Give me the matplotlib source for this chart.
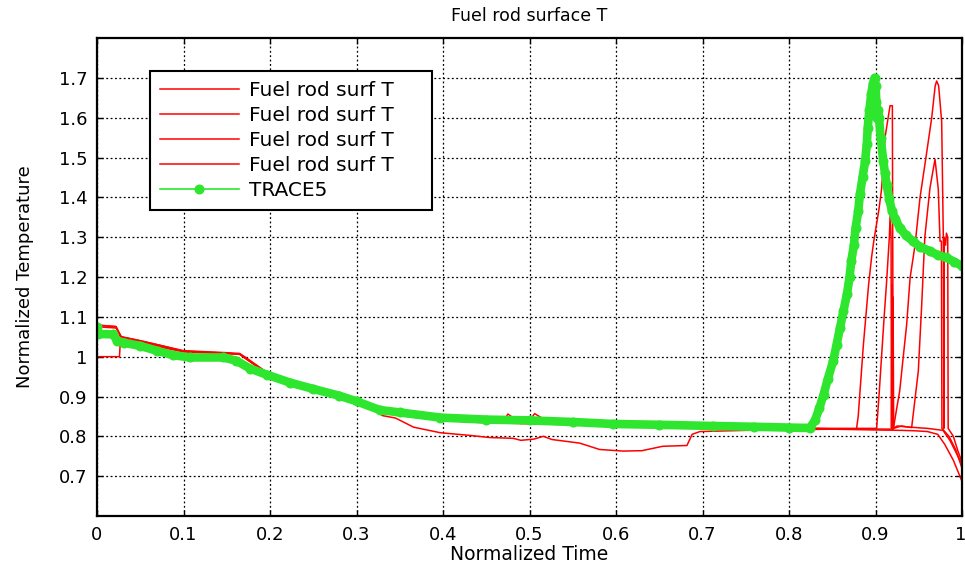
import matplotlib
matplotlib.use('Agg')
import matplotlib.pyplot as plt
import matplotlib.transforms as mtransforms

# ---------------- data ----------------
# Red curves: "Fuel rod surf T" (4 traces)
r1_t = [0, 0.026, 0.027, 0.05, 0.07, 0.10, 0.15, 0.165, 0.172, 0.20, 0.25, 0.28, 0.30,
        0.32, 0.33, 0.345, 0.366, 0.397, 0.428, 0.454, 0.481, 0.49, 0.505, 0.516, 0.526,
        0.558, 0.581, 0.608, 0.63, 0.654, 0.682, 0.688, 0.697, 0.75, 0.85, 0.90, 0.93,
        0.945, 0.96, 0.972, 0.98, 0.99, 1.0]
r1_y = [1.0, 1.0, 1.04, 1.035, 1.025, 1.012, 1.008, 1.006, 0.995, 0.955, 0.92, 0.905, 0.89,
        0.868, 0.852, 0.846, 0.823, 0.809, 0.803, 0.797, 0.795, 0.79, 0.793, 0.80, 0.792,
        0.783, 0.767, 0.763, 0.764, 0.775, 0.777, 0.805, 0.812, 0.815, 0.818, 0.816, 0.815,
        0.814, 0.812, 0.805, 0.78, 0.74, 0.687]

r2_t = [0, 0.022, 0.028, 0.05, 0.07, 0.10, 0.15, 0.165, 0.172, 0.20, 0.25, 0.28, 0.30,
        0.33, 0.35, 0.40, 0.45, 0.47, 0.475, 0.482, 0.49, 0.50, 0.506, 0.515, 0.525,
        0.60, 0.70, 0.80, 0.878, 0.880, 0.882, 0.884, 0.886, 0.888, 0.890, 0.892, 0.8955,
        0.898, 0.901, 0.904, 0.907, 0.909, 0.911, 0.9168, 0.9195, 0.9205, 0.925, 0.93,
        0.94, 0.96, 0.978, 0.986, 0.993, 1.0]
r2_y = [1.078, 1.076, 1.05, 1.04, 1.03, 1.015, 1.01, 1.008, 0.998, 0.955, 0.922, 0.905, 0.89,
        0.862, 0.855, 0.842, 0.836, 0.838, 0.856, 0.845, 0.832, 0.84, 0.857, 0.845, 0.832,
        0.828, 0.824, 0.82, 0.818, 0.85, 0.91, 0.97, 1.03, 1.08, 1.13, 1.18, 1.25,
        1.29, 1.33, 1.37, 1.42, 1.48, 1.55, 1.63, 1.63, 0.82, 0.826, 0.825,
        0.823, 0.82, 0.815, 0.79, 0.76, 0.73]

r3_t = [0, 0.022, 0.028, 0.05, 0.07, 0.10, 0.15, 0.165, 0.172, 0.20, 0.25, 0.28, 0.30,
        0.33, 0.35, 0.40, 0.45, 0.55, 0.65, 0.75, 0.85, 0.9013, 0.904, 0.907, 0.910,
        0.9129, 0.916, 0.917, 0.918, 0.9185, 0.919, 0.9195, 0.9203, 0.921, 0.93, 0.9418,
        0.9495, 0.9534, 0.957, 0.963, 0.9688, 0.9726, 0.9746, 0.9762, 0.9768, 0.985,
        0.993, 1.0]
r3_y = [1.08, 1.075, 1.045, 1.038, 1.028, 1.013, 1.008, 1.006, 0.995, 0.952, 0.92, 0.903,
        0.888, 0.862, 0.852, 0.84, 0.834, 0.83, 0.826, 0.822, 0.82, 0.82, 0.90, 1.0, 1.10,
        1.19, 1.30, 1.36, 1.30, 0.82, 1.18, 0.82, 1.15, 0.82, 0.826, 0.822,
        0.964, 1.13, 1.30, 1.424, 1.496, 1.42, 1.29, 1.29, 0.82, 0.80,
        0.765, 0.72]

r4_t = [0, 0.022, 0.028, 0.05, 0.07, 0.10, 0.15, 0.165, 0.172, 0.20, 0.25, 0.28, 0.30,
        0.33, 0.35, 0.40, 0.45, 0.55, 0.65, 0.75, 0.85, 0.9206, 0.9245, 0.928, 0.932,
        0.936, 0.940, 0.9457, 0.9515, 0.959, 0.965, 0.969, 0.9707, 0.973, 0.9765, 0.9784,
        0.979, 0.9795, 0.981, 0.982, 0.9835, 0.984, 0.99, 0.995, 1.0]
r4_y = [1.075, 1.072, 1.05, 1.04, 1.03, 1.014, 1.009, 1.006, 0.996, 0.953, 0.921, 0.904,
        0.889, 0.863, 0.853, 0.841, 0.835, 0.829, 0.825, 0.821, 0.819, 0.818, 0.87, 0.914,
        0.998, 1.08, 1.198, 1.28, 1.40, 1.51, 1.60, 1.68, 1.692, 1.68, 1.59, 1.30,
        0.82, 1.30, 1.28, 1.31, 1.30, 0.82, 0.80, 0.765, 0.735]

# Green curve: TRACE5
g_t = [0, 0.0015, 0.019, 0.023, 0.031, 0.05, 0.069, 0.088, 0.107, 0.146, 0.161, 0.177,
       0.196, 0.223, 0.25, 0.28, 0.30, 0.327, 0.35, 0.397, 0.45, 0.50, 0.55, 0.597, 0.65,
       0.712, 0.76, 0.80, 0.824, 0.830, 0.835, 0.840, 0.845, 0.851, 0.855, 0.859, 0.863,
       0.867, 0.870, 0.872, 0.875, 0.877, 0.880, 0.882, 0.885, 0.888, 0.890, 0.891, 0.893,
       0.895, 0.897, 0.899, 0.900, 0.901, 0.9015, 0.903, 0.904, 0.906, 0.909, 0.911, 0.913,
       0.916, 0.919, 0.923, 0.928, 0.935, 0.943, 0.952, 0.963, 0.972, 0.982, 0.991, 1.0]
g_y = [1.075, 1.057, 1.056, 1.04, 1.035, 1.027, 1.015, 1.004, 0.998, 0.998, 0.99, 0.97,
       0.955, 0.935, 0.919, 0.902, 0.888, 0.866, 0.86, 0.847, 0.842, 0.84, 0.836, 0.831,
       0.829, 0.826, 0.824, 0.822, 0.821, 0.84, 0.87, 0.905, 0.945, 0.989, 1.03, 1.073,
       1.115, 1.157, 1.20, 1.24, 1.28, 1.324, 1.365, 1.408, 1.45, 1.491, 1.535, 1.575,
       1.62, 1.659, 1.685, 1.70, 1.68, 1.64, 1.60, 1.62, 1.60, 1.55, 1.49, 1.46, 1.43,
       1.395, 1.366, 1.345, 1.324, 1.305, 1.29, 1.275, 1.265, 1.255, 1.249, 1.238, 1.228]

x_ticks = [0, 0.1, 0.2, 0.3, 0.4, 0.5, 0.6, 0.7, 0.8, 0.9, 1.0]
x_labels = ['0', '0.1', '0.2', '0.3', '0.4', '0.5', '0.6', '0.7', '0.8', '0.9', '1']
y_ticks = [0.7, 0.8, 0.9, 1.0, 1.1, 1.2, 1.3, 1.4, 1.5, 1.6, 1.7]
y_labels = ['0.7', '0.8', '0.9', '1', '1.1', '1.2', '1.3', '1.4', '1.5', '1.6', '1.7']

red_label = 'Fuel rod surf T'
green_label = 'TRACE5'

# ---------------- plot ----------------
plt.rcParams['font.family'] = ['DejaVu Sans']
fig = plt.figure(figsize=(9.65, 5.67), dpi=100)
ax = fig.add_axes([97 / 965, 51 / 567, 865 / 965, 478 / 567])

red = '#ff0000'
green = '#2ee62e'

for t, y in [(r1_t, r1_y), (r2_t, r2_y), (r3_t, r3_y), (r4_t, r4_y)]:
    ax.plot(t, y, color=red, lw=1.1, label=red_label, zorder=3)

ax.plot(g_t, g_y, color=green, lw=6.2, solid_capstyle='round',
        solid_joinstyle='round', zorder=4)
ax.plot(g_t, g_y, color=green, lw=1.2, marker='o', ms=6.2, mec=green, mfc=green,
        label=green_label, zorder=4)

ax.set_xlim(0, 1)
ax.set_ylim(0.6, 1.8)
ax.set_xticks(x_ticks)
ax.set_xticklabels(x_labels)
ax.set_yticks(y_ticks)
ax.set_yticklabels(y_labels)

ax.grid(True, color='black', linestyle=(0, (1.5, 2.0)), linewidth=0.9)
ax.set_axisbelow(True)
ax.tick_params(direction='in', top=True, right=True, length=4, width=1,
               labelsize=13, pad=7)
for s in ax.spines.values():
    s.set_linewidth(1.6)
    s.set_zorder(6)

# keep the last x tick label ("1") inside the figure
last = ax.get_xticklabels()[-1]
last.set_horizontalalignment('right')
last.set_transform(last.get_transform() +
                   mtransforms.ScaledTranslation(3 / 72, 0, fig.dpi_scale_trans))

ax.set_title('Fuel rod surface T', fontsize=12.5, pad=12)
ax.set_xlabel('Normalized Time', fontsize=13.5, labelpad=1)
ax.set_ylabel('Normalized Temperature', fontsize=13, labelpad=18)

leg = ax.legend(loc='upper left',
                bbox_to_anchor=(53 / 865, (516 - 209) / 478, 282 / 865, 138 / 478),
                mode='expand',
                fontsize=14.5, handlelength=3.9, handletextpad=0.5, labelspacing=0.3,
                borderpad=0.5, borderaxespad=0, fancybox=False, framealpha=1,
                edgecolor='black', numpoints=1)
leg.get_frame().set_linewidth(1.5)
leg.set_zorder(10)

fig.savefig('out.png', dpi=100)
